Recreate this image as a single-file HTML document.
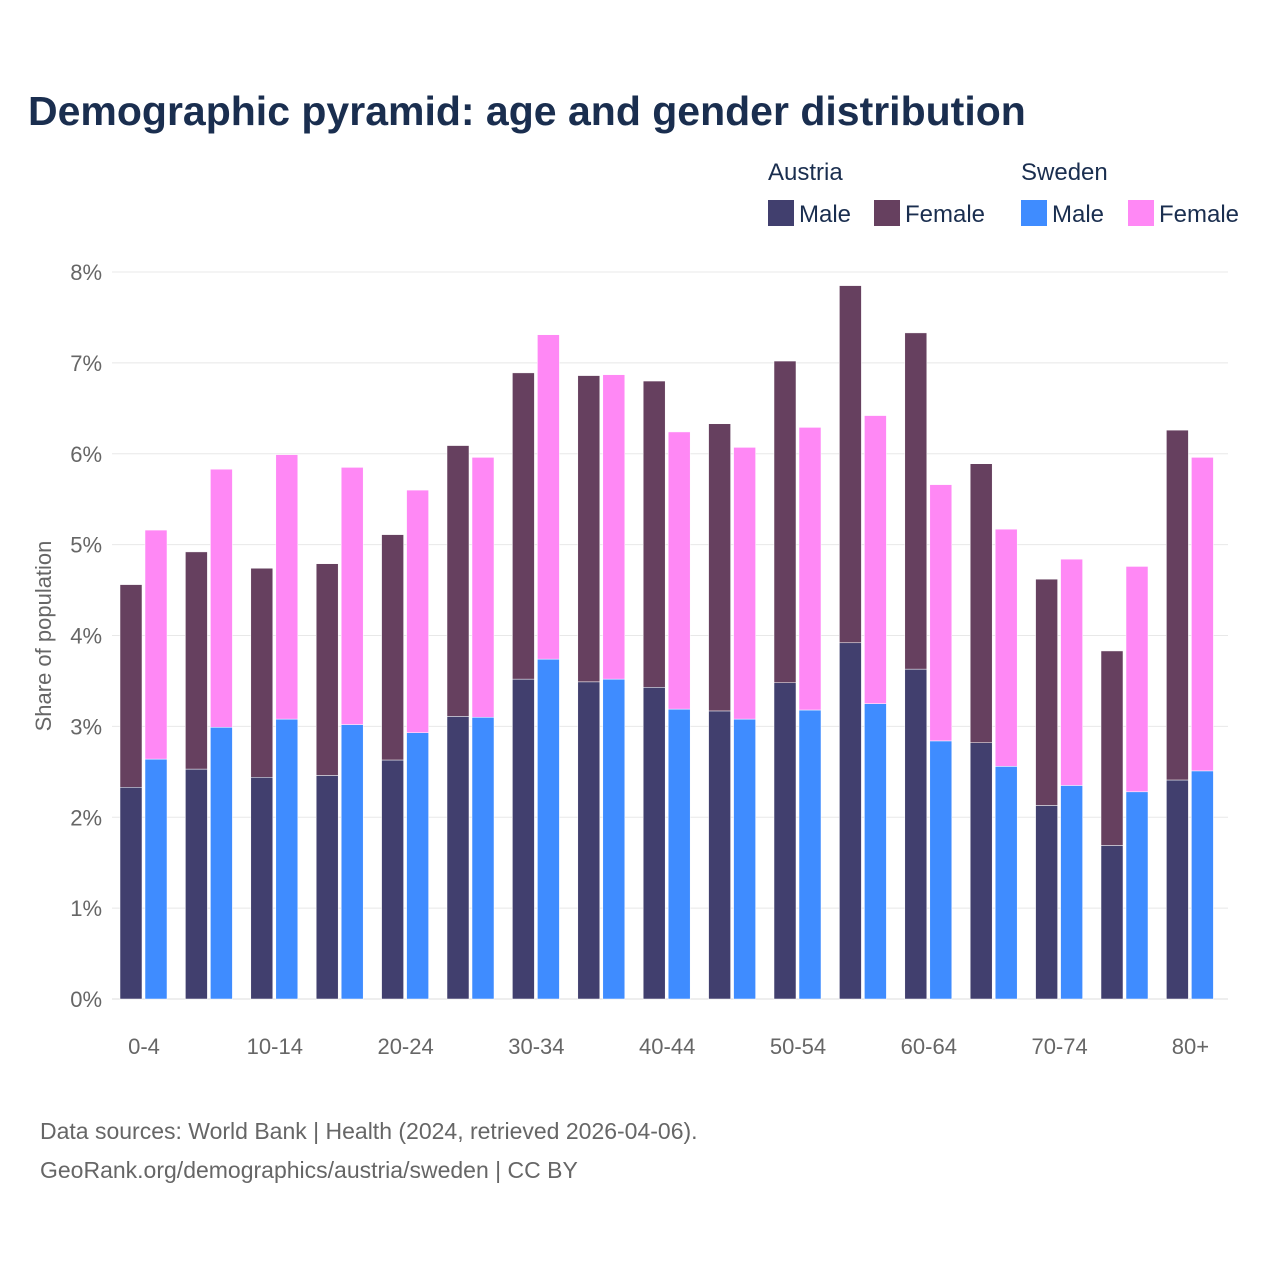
<!DOCTYPE html>
<html><head><meta charset="utf-8"><style>
body{margin:0;background:#fff;font-family:"Liberation Sans",sans-serif;}
svg text{font-family:"Liberation Sans",sans-serif;}
</style></head><body>
<svg id="chart" width="1280" height="1280" xmlns="http://www.w3.org/2000/svg">
<rect width="1280" height="1280" fill="#fff"/>
<text x="28" y="125" font-size="41" font-weight="bold" fill="#1a2e4f">Demographic pyramid: age and gender distribution</text>
<g font-size="24" fill="#1a2e4f">
<text x="768" y="180">Austria</text>
<text x="1021" y="180">Sweden</text>
<g><rect x="768" y="200" width="26" height="26" fill="#413f6e"/><text x="799" y="222">Male</text></g>
<g><rect x="874" y="200" width="26" height="26" fill="#66405f"/><text x="905" y="222">Female</text></g>
<g><rect x="1021" y="200" width="26" height="26" fill="#3f8cff"/><text x="1052" y="222">Male</text></g>
<g><rect x="1128" y="200" width="26" height="26" fill="#ff88f5"/><text x="1159" y="222">Female</text></g>
</g>
<g id="grid"></g>
<g id="yticks"></g>
<g id="bars"></g>
<g id="xticks"></g>
<text transform="translate(51,636) rotate(-90)" text-anchor="middle" font-size="22" fill="#666">Share of population</text>
<text x="40" y="1139" font-size="23" fill="#666">Data sources: World Bank | Health (2024, retrieved 2026-04-06).</text>
<text x="40" y="1178" font-size="23" fill="#666">GeoRank.org/demographics/austria/sweden | CC BY</text>
</svg>
<script>
const categories=["0-4","5-9","10-14","15-19","20-24","25-29","30-34","35-39","40-44","45-49","50-54","55-59","60-64","65-69","70-74","75-79","80+"];
const atMale=[2.33,2.53,2.44,2.46,2.63,3.11,3.52,3.49,3.43,3.17,3.48,3.92,3.63,2.82,2.13,1.69,2.41];
const atTotal=[4.56,4.92,4.74,4.79,5.11,6.09,6.89,6.86,6.80,6.33,7.02,7.85,7.33,5.89,4.62,3.83,6.26];
const seMale=[2.64,2.99,3.08,3.02,2.93,3.10,3.74,3.52,3.19,3.08,3.18,3.25,2.84,2.56,2.35,2.28,2.51];
const seTotal=[5.16,5.83,5.99,5.85,5.60,5.96,7.31,6.87,6.24,6.07,6.29,6.42,5.66,5.17,4.84,4.76,5.96];
const yTicks=[0,1,2,3,4,5,6,7,8];
const NS="http://www.w3.org/2000/svg";
const X0=112,X1=1228,Y0=999,Y8=272;
const y=v=>Y0-(Y0-Y8)*v/8;
const band=65.4;
const cx=i=>144+band*i;
function mk(tag,attrs,parent){const e=document.createElementNS(NS,tag);for(const k in attrs)e.setAttribute(k,attrs[k]);document.getElementById(parent).appendChild(e);return e;}
yTicks.forEach(t=>{
  const l=mk('line',{x1:X0,x2:X1,y1:y(t),y2:y(t),stroke:t===0?'#ddd':'#e8e8e8','stroke-width':1},'grid');
  
  
  const tx=mk('text',{x:102,y:y(t)+8,'text-anchor':'end','font-size':22,fill:'#666'},'yticks');
  tx.textContent=t+'%';
  
  
});
const bw=22;
categories.forEach((c,i)=>{
  const c0=cx(i);
  const specs=[[c0-24,0,atMale[i],'#413f6e','austria-male'],[c0-24,atMale[i],atTotal[i],'#66405f','austria-female'],
               [c0+1,0,seMale[i],'#3f8cff','sweden-male'],[c0+1,seMale[i],seTotal[i],'#ff88f5','sweden-female']];
  specs.forEach(s=>{
    const r=mk('rect',{x:s[0],y:y(s[2]),width:bw,height:y(s[1])-y(s[2]),fill:s[3],stroke:'#fff','stroke-width':0.5},'bars');
    
    
  });
  if(i%2===0){
    const t=mk('text',{x:c0,y:1054,'text-anchor':'middle','font-size':22,fill:'#666'},'xticks');
    t.textContent=c;
    
    
  }
});
</script>
</body></html>
